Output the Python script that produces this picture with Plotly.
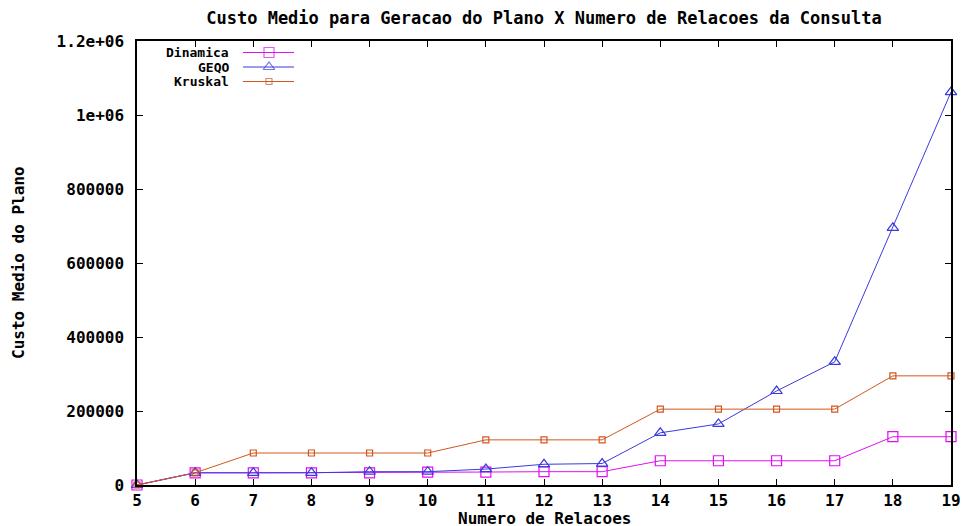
import plotly.graph_objects as go

# Number of relations in the query
relacoes = [5, 6, 7, 8, 9, 10, 11, 12, 13, 14, 15, 16, 17, 18, 19]

# Average plan cost per optimizer
dinamica = [0, 33000, 33000, 33000, 33000, 35000, 35000, 36000, 36000,
            65500, 65500, 65500, 65500, 130500, 130500]
geqo = [0, 33000, 33000, 33000, 36000, 36000, 43000, 56000, 58000,
        141000, 165000, 254000, 333000, 695000, 1062000]
kruskal = [0, 33000, 86500, 86500, 86500, 86500, 122000, 122000, 122000,
           205000, 205000, 205000, 205000, 295000, 295000]

y_ticks = [0, 200000, 400000, 600000, 800000, 1000000, 1200000]
y_tick_text = ["0", "200000", "400000", "600000", "800000", "1e+06", "1.2e+06"]

FONT = "DejaVu Sans Mono"
FS = 17

series = [
    ("Dinamica", dinamica, "#e010f0", "square-open", 10),
    ("GEQO", geqo, "#3a3ae0", "triangle-up-open", 10),
    ("Kruskal", kruskal, "#d0581e", "square-open", 6),
]

fig = go.Figure()
for name, vals, color, symbol, msize in series:
    fig.add_trace(go.Scatter(
        x=relacoes, y=vals, name=name, mode="lines+markers",
        line=dict(color=color, width=1),
        marker=dict(symbol=symbol, size=msize, color=color,
                    line=dict(color=color, width=1.2)),
        cliponaxis=False, showlegend=False,
    ))

# Key in the upper-left corner: label first, then a line sample with its marker
key_rows = [11.5, 26, 40.5]
for (name, vals, color, symbol, msize), ky in zip(series, key_rows):
    fig.add_trace(go.Scatter(
        x=[106, 132, 157], y=[ky, ky, ky], xaxis="x2", yaxis="y2",
        mode="lines+markers",
        line=dict(color=color, width=1),
        marker=dict(symbol=symbol, size=[0, msize, 0], color=color,
                    line=dict(color=color, width=1.2)),
        showlegend=False, hoverinfo="skip", cliponaxis=False,
    ))
    fig.add_annotation(x=94, y=ky, xref="x2", yref="y2", text=name,
                       showarrow=False, xanchor="right", yanchor="middle",
                       font=dict(family=FONT, size=13, color="black", weight="bold"))

axis_common = dict(
    showgrid=False, zeroline=False, showline=True, linecolor="black",
    linewidth=1.5, mirror="ticks", ticks="inside", ticklen=6,
    tickcolor="black", tickwidth=1.2, automargin=False,
    tickfont=dict(family=FONT, size=FS - 1, color="black", weight="bold"),
)

fig.update_layout(
    width=967, height=526,
    margin=dict(l=137, r=16, t=41, b=41, autoexpand=False),
    paper_bgcolor="white", plot_bgcolor="white",
    xaxis=dict(range=[5, 19], tickvals=relacoes, ticklabelstandoff=0,
               **axis_common),
    yaxis=dict(range=[0, 1200000], tickvals=y_ticks, ticktext=y_tick_text,
               ticklabelstandoff=8, **axis_common),
    xaxis2=dict(range=[0, 814], overlaying="x", visible=False, fixedrange=True),
    yaxis2=dict(range=[444, 0], overlaying="y", visible=False, fixedrange=True),
    showlegend=False,
    title=dict(text="Custo Medio para Geracao do Plano X Numero de Relacoes da Consulta",
               x=544 / 967, xanchor="center", y=1 - 18 / 526, yanchor="middle",
               font=dict(family=FONT, size=FS, color="black", weight="bold")),
)

fig.add_annotation(text="Numero de Relacoes", xref="paper", yref="paper",
                   x=0.5, y=-33 / 444, xanchor="center", yanchor="middle",
                   showarrow=False, height=14,
                   font=dict(family=FONT, size=FS - 1, color="black", weight="bold"))
fig.add_annotation(text="Custo Medio do Plano", xref="paper", yref="paper",
                   x=-(137 - 18) / 814, y=0.5, xanchor="center", yanchor="middle",
                   textangle=-90, showarrow=False,
                   font=dict(family=FONT, size=FS - 1, color="black", weight="bold"))

fig.write_html("out.html")
